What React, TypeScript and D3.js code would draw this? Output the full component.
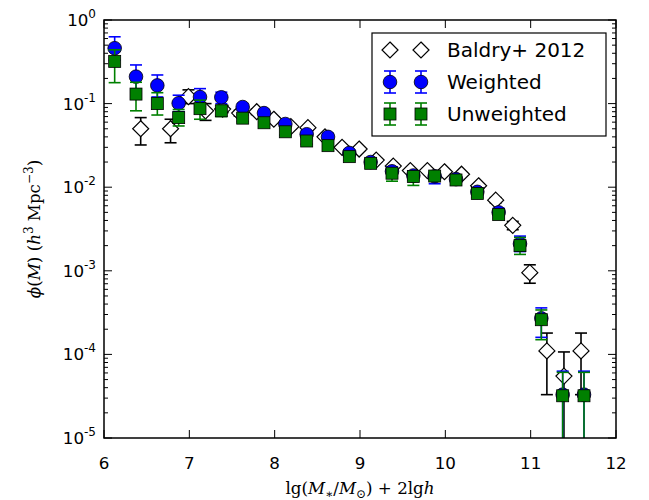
import React from "react";
import * as d3 from "d3";

// Data
const massBins = [6.125, 6.375, 6.625, 6.875, 7.125, 7.375, 7.625, 7.875, 8.125, 8.375, 8.625, 8.875, 9.125, 9.375, 9.625, 9.875, 10.125, 10.375, 10.625, 10.875, 11.125, 11.375, 11.625];
const weighted = [0.46, 0.21, 0.165, 0.101, 0.12, 0.119, 0.091, 0.077, 0.057, 0.043, 0.04, 0.0257, 0.02, 0.0155, 0.0138, 0.0135, 0.0125, 0.0088, 0.005, 0.0021, 0.00027, 3.3e-5, 3.3e-5];
const weightedHi = [0.63, 0.29, 0.22, 0.126, 0.151, 0.137, 0.099, 0.083, 0.062, 0.047, 0.044, 0.028, 0.022, 0.0175, 0.0155, 0.015, 0.0138, 0.0097, 0.0056, 0.0026, 3.6e-4, 6.3e-5, 6.3e-5];
const weightedLo = [0.33, 0.15, 0.12, 0.08, 0.095, 0.1, 0.083, 0.071, 0.052, 0.039, 0.036, 0.023, 0.018, 0.014, 0.0122, 0.011, 0.0112, 0.0079, 0.0044, 0.0017, 1.6e-4, 1e-7, 1e-7];
const unweighted = [0.32, 0.13, 0.1, 0.068, 0.087, 0.082, 0.067, 0.059, 0.046, 0.0357, 0.0314, 0.0232, 0.0193, 0.0147, 0.0134, 0.0136, 0.0122, 0.0084, 0.0047, 0.002, 0.00026, 3.2e-5, 3.2e-5];
const unweightedHi = [0.44, 0.18, 0.135, 0.085, 0.11, 0.095, 0.073, 0.064, 0.05, 0.039, 0.034, 0.025, 0.021, 0.016, 0.0146, 0.0148, 0.0133, 0.0093, 0.0052, 0.0025, 3.4e-4, 6.1e-5, 6.1e-5];
const unweightedLo = [0.178, 0.082, 0.073, 0.054, 0.065, 0.07, 0.061, 0.054, 0.042, 0.0327, 0.029, 0.021, 0.0177, 0.0118, 0.0105, 0.0124, 0.0111, 0.0075, 0.0042, 0.00157, 1.5e-4, 1e-7, 1e-7];

const baldryMass = [6.43, 6.78, 6.99, 7.19, 7.39, 7.59, 7.79, 7.99, 8.19, 8.39, 8.59, 8.79, 8.99, 9.19, 9.39, 9.59, 9.79, 9.99, 10.19, 10.39, 10.59, 10.79, 10.99, 11.19, 11.39, 11.59];
const baldry = [0.05, 0.05, 0.121, 0.082, 0.086, 0.077, 0.08, 0.065, 0.053, 0.0515, 0.04, 0.03, 0.0286, 0.0211, 0.0179, 0.0158, 0.0158, 0.0153, 0.0143, 0.0104, 0.007, 0.0035, 0.00095, 1.1e-4, 5.5e-5, 1.1e-4];
const baldryHi = [0.068, 0.065, 0.146, 0.1, 0.095, 0.083, 0.086, 0.069, 0.056, 0.054, 0.042, 0.0315, 0.03, 0.022, 0.0186, 0.0164, 0.0164, 0.0159, 0.0149, 0.011, 0.0075, 0.0039, 0.00118, 1.8e-4, 1.07e-4, 1.8e-4];
const baldryLo = [0.032, 0.034, 0.1, 0.063, 0.078, 0.071, 0.074, 0.061, 0.05, 0.049, 0.038, 0.0285, 0.0272, 0.02, 0.0172, 0.0152, 0.0152, 0.0147, 0.0137, 0.0098, 0.0065, 0.0031, 0.00071, 3.3e-5, 1e-7, 3.3e-5];

const xTicks = [6, 7, 8, 9, 10, 11, 12];
const yTickExps = [0, -1, -2, -3, -4, -5];

const W = 649, H = 500;
const L = 104, R = 616, T = 20, B = 438;

export default function App() {
  const x = d3.scaleLinear().domain([6, 12]).range([L, R]);
  const y = d3.scaleLog().domain([1e-5, 1]).range([B, T]);
  const minorY: number[] = [];
  for (let e = -5; e < 0; e++) for (let k = 2; k <= 9; k++) minorY.push(k * Math.pow(10, e));

  const errBar = (key: string, xv: number, lo: number, hi: number, color: string, cap = 6) => (
    <g key={key} stroke={color} strokeWidth={1.6}>
      <line x1={x(xv)} x2={x(xv)} y1={y(lo)} y2={y(hi)} />
      <line x1={x(xv) - cap} x2={x(xv) + cap} y1={y(hi)} y2={y(hi)} />
      <line x1={x(xv) - cap} x2={x(xv) + cap} y1={y(lo)} y2={y(lo)} />
    </g>
  );
  const diamond = (cx: number, cy: number, r = 8) =>
    `M${cx},${cy - r}L${cx + r},${cy}L${cx},${cy + r}L${cx - r},${cy}Z`;

  const serif = "'DejaVu Serif', 'Liberation Serif', serif";
  const sans = "'DejaVu Sans', sans-serif";

  return (
    <svg width={W} height={H} style={{ position: "absolute", left: 0, top: 0, background: "#fff" }}>
      <defs>
        <clipPath id="plotclip">
          <rect x={L} y={T} width={R - L} height={B - T} />
        </clipPath>
      </defs>
      <g clipPath="url(#plotclip)">
        {/* Baldry */}
        {baldryMass.map((m, i) => errBar("be" + i, m, baldryLo[i], baldryHi[i], "#000"))}
        {baldryMass.map((m, i) => (
          <path key={"bd" + i} d={diamond(x(m), y(baldry[i]))} fill="#fff" stroke="#000" strokeWidth={1.2} />
        ))}
        {/* Weighted */}
        {massBins.map((m, i) => errBar("we" + i, m, weightedLo[i], weightedHi[i], "#0000ff"))}
        {massBins.map((m, i) => (
          <circle key={"wc" + i} cx={x(m)} cy={y(weighted[i])} r={6.8} fill="#0000ff" stroke="#000" strokeWidth={0.8} />
        ))}
        {/* Unweighted */}
        {massBins.map((m, i) => errBar("ue" + i, m, unweightedLo[i], unweightedHi[i], "#008000"))}
        {massBins.map((m, i) => (
          <rect key={"us" + i} x={x(m) - 6} y={y(unweighted[i]) - 6} width={12} height={12} fill="#008000" stroke="#000" strokeWidth={0.8} />
        ))}
      </g>

      {/* ticks */}
      <g stroke="#000" strokeWidth={1}>
        {xTicks.map((t) => (
          <g key={"xt" + t}>
            <line x1={x(t)} x2={x(t)} y1={B} y2={B - 8} />
            <line x1={x(t)} x2={x(t)} y1={T} y2={T + 8} />
          </g>
        ))}
        {yTickExps.map((e) => (
          <g key={"yt" + e}>
            <line x1={L} x2={L + 8} y1={y(Math.pow(10, e))} y2={y(Math.pow(10, e))} />
            <line x1={R} x2={R - 8} y1={y(Math.pow(10, e))} y2={y(Math.pow(10, e))} />
          </g>
        ))}
        {minorY.map((v, i) => (
          <g key={"ym" + i}>
            <line x1={L} x2={L + 4} y1={y(v)} y2={y(v)} />
            <line x1={R} x2={R - 4} y1={y(v)} y2={y(v)} />
          </g>
        ))}
      </g>
      <rect x={L} y={T} width={R - L} height={B - T} fill="none" stroke="#000" strokeWidth={1.5} />

      {/* tick labels */}
      <g fontFamily={sans} fontSize={16.7} fill="#000">
        {xTicks.map((t) => (
          <text key={"xl" + t} x={x(t)} y={B + 31} textAnchor="middle">{t}</text>
        ))}
        {yTickExps.map((e) => (
          <text key={"yl" + e} x={L - 8} y={y(Math.pow(10, e)) + 6} textAnchor="end">
            10<tspan dy={-8} fontSize={12}>{e}</tspan>
          </text>
        ))}
      </g>

      {/* axis labels */}
      <text x={(L + R) / 2} y={494} textAnchor="middle" fontFamily={serif} fontSize={16.7}>
        lg(<tspan fontStyle="italic">M</tspan><tspan dy={4} fontSize={12}>∗</tspan><tspan dy={-4}>/</tspan><tspan fontStyle="italic">M</tspan><tspan dy={4} fontSize={12}>⊙</tspan><tspan dy={-4}>) + 2lg</tspan><tspan fontStyle="italic">h</tspan>
      </text>
      <text transform={`translate(40,${(T + B) / 2}) rotate(-90)`} textAnchor="middle" fontFamily={serif} fontSize={16.7}>
        <tspan fontStyle="italic">ϕ</tspan>(<tspan fontStyle="italic">M</tspan>) (<tspan fontStyle="italic">h</tspan><tspan dy={-7} fontSize={12}>3</tspan><tspan dy={7}> Mpc</tspan><tspan dy={-7} fontSize={12}>−3</tspan><tspan dy={7}>)</tspan>
      </text>

      {/* legend */}
      <g>
        <rect x={372} y={33} width={234} height={103} fill="#fff" stroke="#000" strokeWidth={1.2} />
        {[390, 421].map((lx) => (
          <g key={"lg" + lx}>
            <path d={diamond(lx, 50, 8)} fill="#fff" stroke="#000" strokeWidth={1.2} />
            <g stroke="#0000ff" strokeWidth={1.6}>
              <line x1={lx} x2={lx} y1={71} y2={93} />
              <line x1={lx - 6} x2={lx + 6} y1={71} y2={71} />
              <line x1={lx - 6} x2={lx + 6} y1={93} y2={93} />
            </g>
            <circle cx={lx} cy={82} r={6.8} fill="#0000ff" stroke="#000" strokeWidth={0.8} />
            <g stroke="#008000" strokeWidth={1.6}>
              <line x1={lx} x2={lx} y1={103} y2={125} />
              <line x1={lx - 6} x2={lx + 6} y1={103} y2={103} />
              <line x1={lx - 6} x2={lx + 6} y1={125} y2={125} />
            </g>
            <rect x={lx - 6} y={108} width={12} height={12} fill="#008000" stroke="#000" strokeWidth={0.8} />
          </g>
        ))}
        <g fontFamily={sans} fontSize={20} fill="#000">
          <text x={447} y={57}>Baldry+ 2012</text>
          <text x={447} y={89}>Weighted</text>
          <text x={447} y={121}>Unweighted</text>
        </g>
      </g>
    </svg>
  );
}
